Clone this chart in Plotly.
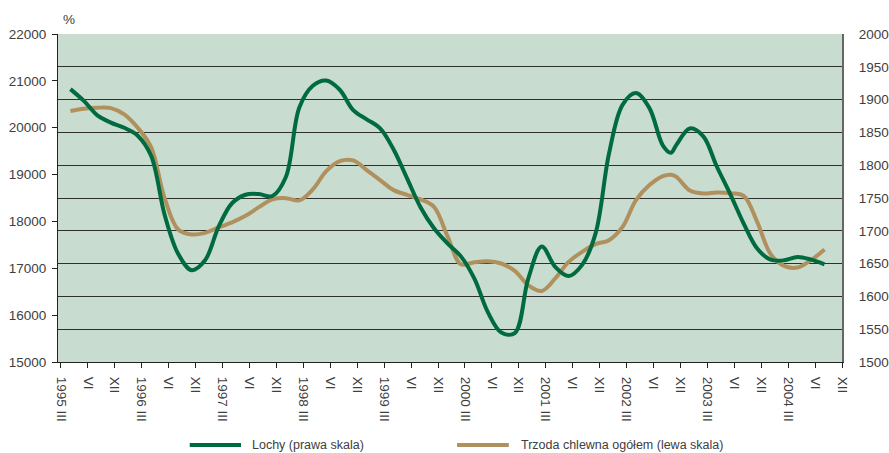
import plotly.graph_objects as go

# Category tick labels (x axis)
tick_labels = []
for yr in range(1995, 2005):
    tick_labels += [f"{yr} III", "VI", "XII"]
tick_pos = list(range(len(tick_labels)))

# Sample positions along the category axis (in tick intervals)
x_pos = [0.35, 0.85, 1.35, 1.85, 2.35, 2.85, 3.35, 3.85, 4.35, 4.85,
         5.35, 5.85, 6.35, 6.85, 7.35, 7.85, 8.35, 8.85, 9.35, 9.85,
         10.35, 10.85, 11.35, 11.85, 12.35, 12.85, 13.35, 13.85, 14.35, 14.85,
         15.35, 15.85, 16.35, 16.85, 17.35, 17.85, 18.35, 18.85, 19.35, 19.85,
         20.35, 20.85, 21.35, 21.85, 22.35, 22.65, 22.85, 23.35, 23.85, 24.35, 24.85,
         25.35, 25.85, 26.35, 26.85, 27.35, 27.85, 28.35]

# Lochy (right scale)
lochy = [1916, 1898, 1876, 1865, 1857, 1845, 1814, 1724, 1665, 1640,
         1655, 1706, 1742, 1755, 1756, 1753, 1782, 1888, 1921, 1929,
         1915, 1884, 1870, 1856, 1824, 1780, 1736, 1704, 1681, 1661,
         1627, 1576, 1545, 1544, 1627, 1676, 1645, 1631, 1648, 1696,
         1818, 1892, 1910, 1887, 1830, 1819, 1831, 1856, 1844, 1798, 1756,
         1711, 1673, 1656, 1655, 1660, 1656, 1649]

# Trzoda chlewna ogółem (left scale)
trzoda = [20355, 20404, 20426, 20419, 20285, 19999, 19580, 18491, 17828, 17722,
          17756, 17871, 17978, 18119, 18305, 18469, 18497, 18448, 18683, 19074,
          19287, 19302, 19095, 18881, 18668, 18567, 18469, 18311, 17685, 17087,
          17130, 17151, 17102, 16944, 16639, 16517, 16782, 17136, 17350, 17514,
          17600, 17884, 18454, 18775, 18967, 18995, 18952, 18661, 18597, 18619, 18604,
          18546, 17991, 17301, 17051, 17017, 17173, 17401]

GREEN = "#006B3F"
TAN = "#B0915E"
TXT = "#404040"
FONT = "Liberation Sans"

fig = go.Figure()
fig.add_trace(go.Scatter(x=x_pos, y=trzoda, mode="lines", name="Trzoda chlewna ogółem (lewa skala)",
                         line=dict(color=TAN, width=4, shape="spline", smoothing=1.0),
                         yaxis="y", showlegend=False))
fig.add_trace(go.Scatter(x=x_pos, y=lochy, mode="lines", name="Lochy (prawa skala)",
                         line=dict(color=GREEN, width=4, shape="spline", smoothing=1.0),
                         yaxis="y2", showlegend=False))

fig.update_layout(
    width=889, height=453, autosize=False,
    margin=dict(l=58, r=47, t=34, b=91, autoexpand=False),
    paper_bgcolor="white",
    plot_bgcolor="#C8DCD0",
    font=dict(family=FONT, size=13.5, color=TXT),
    xaxis=dict(range=[-0.111, 29], tickvals=tick_pos, ticktext=tick_labels,
               tickangle=90, ticks="outside", ticklen=5, tickcolor="#222",
               showline=True, linecolor="#222", linewidth=1, automargin=False,
               showgrid=False, zeroline=False, ticklabelstandoff=6),
    yaxis=dict(range=[15000, 22000], dtick=1000, tickformat="d",
               showgrid=False, zeroline=False, automargin=False,
               showline=True, linecolor="#222", linewidth=1,
               ticks="outside", ticklen=5, tickcolor="#222", ticklabelstandoff=3),
    yaxis2=dict(range=[1500, 2000], dtick=50, tickformat="d", overlaying="y", side="right",
                showgrid=True, gridcolor="#2f2f2f", gridwidth=1, zeroline=False,
                showline=True, linecolor="#666", linewidth=2, automargin=False,
                ticks="", ticklabelstandoff=12),
)

# Unit label
fig.add_annotation(text="%", xref="paper", yref="paper", x=0.0135, y=1.043,
                   xanchor="center", yanchor="middle",
                   showarrow=False, font=dict(size=13.5, color=TXT))

# Manual legend
leg_y = -0.253
fig.add_shape(type="line", xref="paper", yref="paper", x0=0.168, x1=0.2334, y0=leg_y, y1=leg_y,
              line=dict(color=GREEN, width=4))
fig.add_annotation(text="Lochy (prawa skala)", xref="paper", yref="paper", x=0.245, y=leg_y,
                   xanchor="left", yanchor="middle", showarrow=False, font=dict(size=12.5, color=TXT))
fig.add_shape(type="line", xref="paper", yref="paper", x0=0.509, x1=0.575, y0=leg_y, y1=leg_y,
              line=dict(color=TAN, width=4))
fig.add_annotation(text="Trzoda chlewna ogółem (lewa skala)", xref="paper", yref="paper", x=0.588, y=leg_y,
                   xanchor="left", yanchor="middle", showarrow=False, font=dict(size=12.5, color=TXT))

fig.write_html("out.html", config={"displayModeBar": False},
               post_script="document.body.style.margin='0';document.body.style.overflow='hidden';")
